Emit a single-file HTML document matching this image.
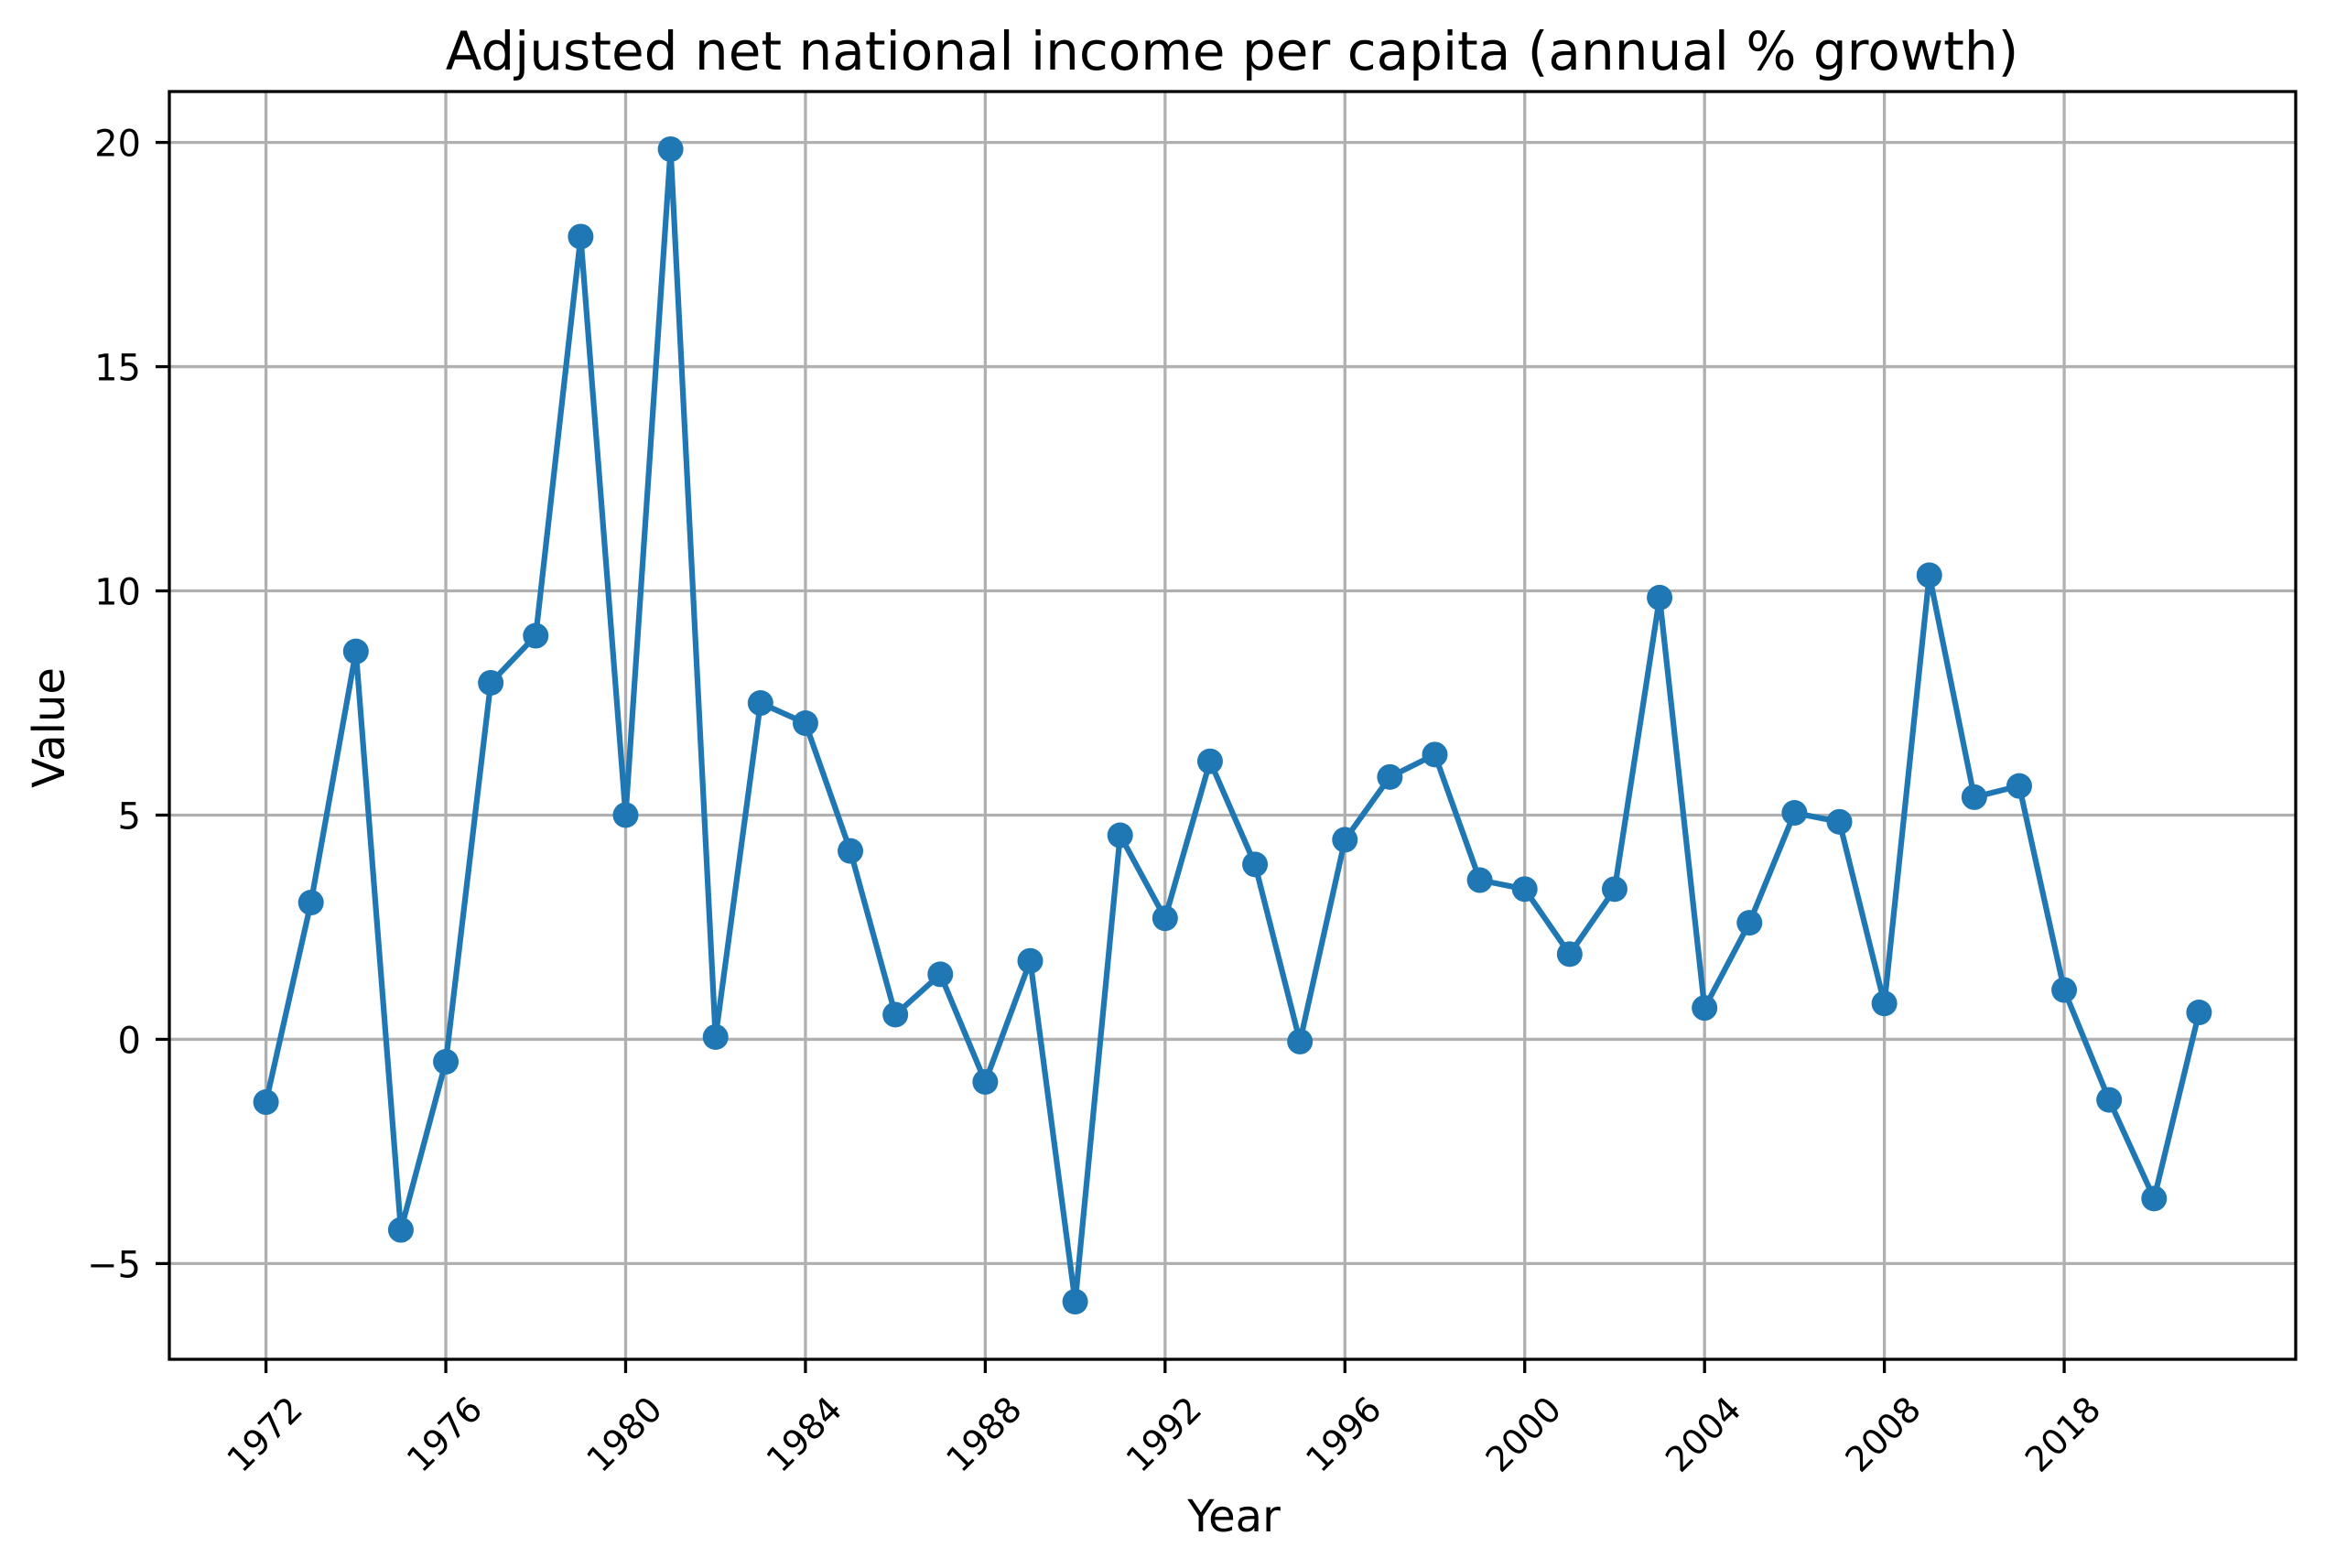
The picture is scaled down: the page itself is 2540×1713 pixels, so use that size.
<!DOCTYPE html>
<html><head><meta charset="utf-8"><style>
html,body{margin:0;padding:0;background:#fff;}
svg{display:block;font-family:"DejaVu Sans","Liberation Sans",sans-serif;}
</style></head><body>
<svg id="chart" width="2540" height="1713" viewBox="0 0 2540 1713" xmlns="http://www.w3.org/2000/svg">
<rect width="2540" height="1713" fill="#fff"/>
<g id="grid"></g>
<g id="ticks"></g>
<g id="series"></g>
<rect x="185" y="100" width="2323" height="1385" fill="none" stroke="#000" stroke-width="3.3"/>
<text x="1346" y="76" font-size="58" text-anchor="middle">Adjusted net national income per capita (annual % growth)</text>
<text x="1348" y="1673" font-size="48" text-anchor="middle">Year</text>
<text x="0" y="0" font-size="48" text-anchor="middle" transform="translate(70,795) rotate(-90)">Value</text>
</svg>
<script>
const categories = [];
for (let y = 1972; y <= 2011; y++) categories.push(String(y));
categories.push("2018","2019","2020","2021");
const values = [-1.4,3.05,8.65,-4.25,-0.5,7.95,9.0,17.9,5.0,19.85,0.05,7.5,7.05,4.2,0.55,1.45,-0.95,1.75,-5.85,4.55,2.7,6.2,3.9,-0.05,4.45,5.85,6.35,3.55,3.35,1.9,3.35,9.85,0.7,2.6,5.05,4.85,0.8,10.35,5.4,5.65,1.1,-1.35,-3.55,0.6];
const yTicks = [-5,0,5,10,15,20];
const yTickLabels = ["\u22125","0","5","10","15","20"];

const NS = "http://www.w3.org/2000/svg";
const L = 185, R = 2508, T = 100, B = 1485;
const n = values.length;
const xMin = -0.05*(n-1), xMax = (n-1)*1.05;
const vMin = Math.min(...values), vMax = Math.max(...values), pad = (vMax-vMin)*0.05;
const yMin = vMin-pad, yMax = vMax+pad;
const xs = i => L + (i - xMin) / (xMax - xMin) * (R - L);
const ys = v => B - (v - yMin) / (yMax - yMin) * (B - T);
function mk(tag, attrs, parent){const e=document.createElementNS(NS,tag);for(const k in attrs)e.setAttribute(k,attrs[k]);parent.appendChild(e);return e;}
const grid=document.getElementById('grid'), ticks=document.getElementById('ticks'), series=document.getElementById('series');

for (let i = 0; i < n; i += 4) {
  const x = xs(i);
  const g = mk('line',{x1:x,x2:x,y1:T,y2:B,stroke:'#b0b0b0','stroke-width':3.3},grid);
  
  
  const t = mk('line',{x1:x,x2:x,y1:B,y2:B+15,stroke:'#000','stroke-width':3.3},ticks);
  
  
  const lb = mk('text',{x:0,y:0,'font-size':38,'text-anchor':'end',transform:`translate(${x+42},${B+57}) rotate(-45)`},ticks);
  lb.textContent = categories[i];
  
  
}
yTicks.forEach((v,k)=>{
  const y = ys(v);
  const g = mk('line',{x1:L,x2:R,y1:y,y2:y,stroke:'#b0b0b0','stroke-width':3.3},grid);
  
  
  const t = mk('line',{x1:L-15,x2:L,y1:y,y2:y,stroke:'#000','stroke-width':3.3},ticks);
  
  
  const lb = mk('text',{x:L-31,y:y+15,'font-size':40,'text-anchor':'end'},ticks);
  lb.textContent = yTickLabels[k];
  
  
});
const pts = values.map((v,i)=>xs(i)+','+ys(v)).join(' ');
const line = mk('polyline',{points:pts,fill:'none',stroke:'#1f77b4','stroke-width':6.2,'stroke-linejoin':'round'},series);


values.forEach((v,i)=>{
  const c = mk('circle',{cx:xs(i),cy:ys(v),r:14,fill:'#1f77b4'},series);
  
  
});
</script>
</body></html>
